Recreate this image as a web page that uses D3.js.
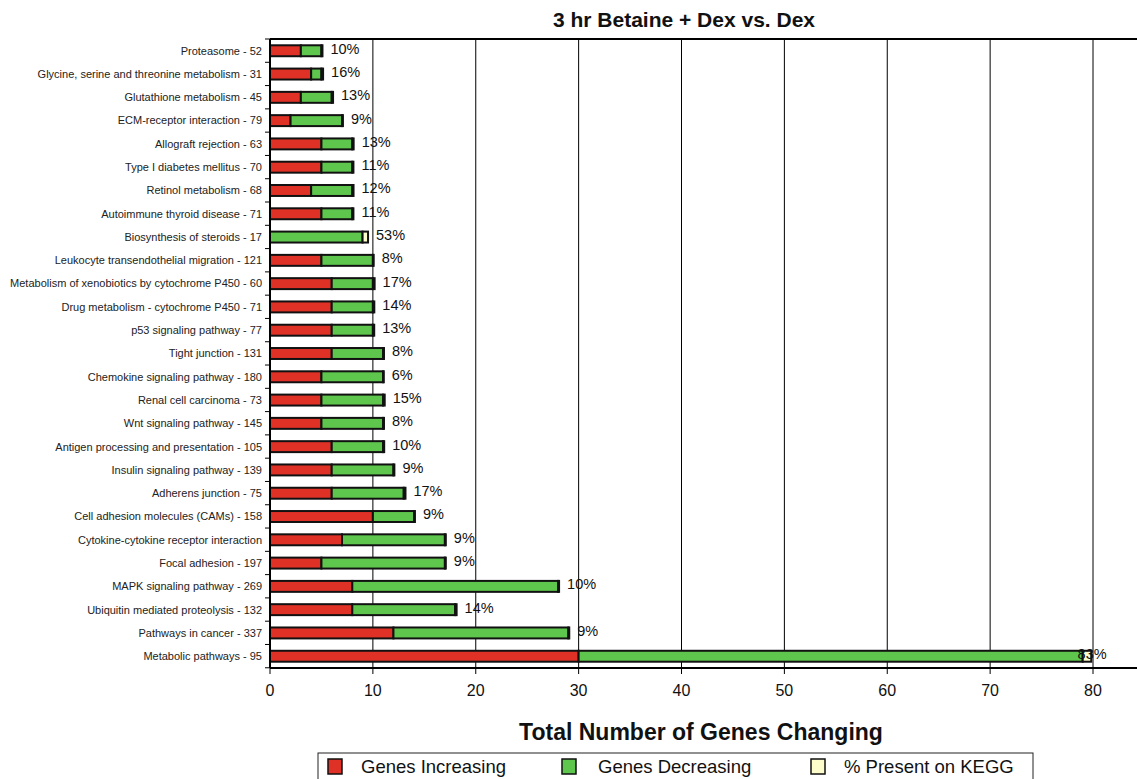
<!DOCTYPE html>
<html>
<head>
<meta charset="utf-8">
<script src="https://cdn.jsdelivr.net/npm/d3@7"></script>
<style>
  body { margin: 0; background: #fff; }
  text { font-family: "Liberation Sans", Arial, sans-serif; }
</style>
</head>
<body>
<div id="chart"></div>
<script>
// chart values, top row first
const pathways = [
  "Proteasome - 52",
  "Glycine, serine and threonine metabolism - 31",
  "Glutathione metabolism - 45",
  "ECM-receptor interaction - 79",
  "Allograft rejection - 63",
  "Type I diabetes mellitus - 70",
  "Retinol metabolism - 68",
  "Autoimmune thyroid disease - 71",
  "Biosynthesis of steroids - 17",
  "Leukocyte transendothelial migration - 121",
  "Metabolism of xenobiotics by cytochrome P450 - 60",
  "Drug metabolism - cytochrome P450 - 71",
  "p53 signaling pathway - 77",
  "Tight junction - 131",
  "Chemokine signaling pathway - 180",
  "Renal cell carcinoma - 73",
  "Wnt signaling pathway - 145",
  "Antigen processing and presentation - 105",
  "Insulin signaling pathway - 139",
  "Adherens junction - 75",
  "Cell adhesion molecules (CAMs) - 158",
  "Cytokine-cytokine receptor interaction",
  "Focal adhesion - 197",
  "MAPK signaling pathway - 269",
  "Ubiquitin mediated proteolysis - 132",
  "Pathways in cancer - 337",
  "Metabolic pathways - 95"
];
const genesIncreasing = [3, 4, 3, 2, 5, 5, 4, 5, 0, 5, 6, 6, 6, 6, 5, 5, 5, 6, 6, 6, 10, 7, 5, 8, 8, 12, 30];
const genesDecreasing = [2, 1, 3, 5, 3, 3, 4, 3, 9, 5, 4, 4, 4, 5, 6, 6, 6, 5, 6, 7, 4, 10, 12, 20, 10, 17, 49];
const pctOnKegg = [10, 16, 13, 9, 13, 11, 12, 11, 53, 8, 17, 14, 13, 8, 6, 15, 8, 10, 9, 17, 9, 9, 9, 10, 14, 9, 83];
const xTicks = [0, 10, 20, 30, 40, 50, 60, 70, 80];

const seriesNames = ["Genes Increasing", "Genes Decreasing", "% Present on KEGG"];
const colors = ["#e03127", "#5ec64c", "#fdfdcc"];

const width = 1137, height = 779;
const margin = { top: 39, left: 270, bottom: 111 };

const svg = d3.select('#chart')
  .append('svg')
  .attr('width', width)
  .attr('height', height);

// build stacked rows; the KEGG segment is drawn as pct/100 genes wide
const rows = pathways.map((p, i) => ({
  name: p,
  inc: genesIncreasing[i],
  dec: genesDecreasing[i],
  kegg: pctOnKegg[i] / 100,
  pct: pctOnKegg[i]
}));
const stack = d3.stack().keys(["inc", "dec", "kegg"])(rows);

const x = d3.scaleLinear()
  .domain([0, 80])
  .range([margin.left, margin.left + 823]);

const y = d3.scaleBand()
  .domain(pathways)
  .range([margin.top, height - margin.bottom])
  .paddingInner(0.53)
  .paddingOuter(0.27);

const plotBottom = height - margin.bottom;

// vertical gridlines
svg.append('g')
  .selectAll('line')
  .data(xTicks.filter(d => d > 0))
  .join('line')
  .attr('x1', d => x(d)).attr('x2', d => x(d))
  .attr('y1', margin.top).attr('y2', plotBottom)
  .attr('stroke', '#000')
  .attr('stroke-width', 1);

// top border
svg.append('line')
  .attr('x1', margin.left).attr('x2', width)
  .attr('y1', margin.top).attr('y2', margin.top)
  .attr('stroke', '#000').attr('stroke-width', 2);

// bars
svg.append('g')
  .selectAll('g')
  .data(stack)
  .join('g')
  .attr('fill', (d, i) => colors[i])
  .selectAll('rect')
  .data(d => d)
  .join('rect')
  .filter(d => d[1] > d[0])
  .attr('x', d => x(d[0]))
  .attr('y', d => y(d.data.name))
  .attr('width', d => x(d[1]) - x(d[0]))
  .attr('height', y.bandwidth())
  .attr('stroke', '#111')
  .attr('stroke-width', 2);

// percent labels
svg.append('g')
  .selectAll('text')
  .data(rows)
  .join('text')
  .attr('x', d => Math.min(x(d.inc + d.dec + d.kegg) + 8, x(78.5)))
  .attr('y', d => y(d.name) + y.bandwidth() / 2)
  .attr('dy', '0.2em')
  .attr('font-size', 14.5)
  .attr('fill', '#111')
  .text(d => d.pct + '%');

// y axis with ticks between the rows
const yAxis = svg.append('g');
yAxis.append('line')
  .attr('x1', margin.left).attr('x2', margin.left)
  .attr('y1', margin.top).attr('y2', plotBottom)
  .attr('stroke', '#000').attr('stroke-width', 2);
const step = y.step();
yAxis.selectAll('line.tick')
  .data(d3.range(pathways.length + 1))
  .join('line')
  .attr('class', 'tick')
  .attr('x1', margin.left - 5).attr('x2', margin.left)
  .attr('y1', i => margin.top + i * step).attr('y2', i => margin.top + i * step)
  .attr('stroke', '#000');
yAxis.selectAll('text')
  .data(pathways)
  .join('text')
  .attr('x', margin.left - 8)
  .attr('y', d => y(d) + y.bandwidth() / 2)
  .attr('dy', '0.35em')
  .attr('text-anchor', 'end')
  .attr('font-size', 11)
  .attr('fill', '#222')
  .text(d => d);

// x axis
const xAxis = svg.append('g');
xAxis.append('line')
  .attr('x1', margin.left).attr('x2', width)
  .attr('y1', plotBottom).attr('y2', plotBottom)
  .attr('stroke', '#000').attr('stroke-width', 2);
xAxis.selectAll('line.tick')
  .data(xTicks)
  .join('line')
  .attr('class', 'tick')
  .attr('x1', d => x(d)).attr('x2', d => x(d))
  .attr('y1', plotBottom).attr('y2', plotBottom + 6)
  .attr('stroke', '#000');
xAxis.selectAll('text')
  .data(xTicks)
  .join('text')
  .attr('x', d => x(d))
  .attr('y', plotBottom + 28)
  .attr('text-anchor', 'middle')
  .attr('font-size', 16)
  .attr('fill', '#111')
  .text(d => d);

// titles
svg.append('text')
  .attr('x', 684).attr('y', 27)
  .attr('text-anchor', 'middle')
  .attr('font-size', 21)
  .attr('font-weight', 'bold')
  .attr('fill', '#111')
  .text('3 hr Betaine + Dex vs. Dex');

svg.append('text')
  .attr('x', 701).attr('y', 740)
  .attr('text-anchor', 'middle')
  .attr('font-size', 23)
  .attr('font-weight', 'bold')
  .attr('fill', '#111')
  .text('Total Number of Genes Changing');

// legend
const legend = svg.append('g');
legend.append('rect')
  .attr('x', 318).attr('y', 753)
  .attr('width', 715).attr('height', 30)
  .attr('fill', '#fff')
  .attr('stroke', '#222').attr('stroke-width', 1);
const legendX = [328, 562, 811];
const legendItem = legend.selectAll('g.item')
  .data(seriesNames)
  .join('g')
  .attr('class', 'item')
  .attr('transform', (d, i) => `translate(${legendX[i]},759)`);
legendItem.append('rect')
  .attr('width', 14).attr('height', 15)
  .attr('fill', (d, i) => colors[i])
  .attr('stroke', '#111').attr('stroke-width', 1.5);
legendItem.append('text')
  .attr('x', (d, i) => i === 1 ? 36 : 33).attr('y', 14)
  .attr('font-size', 18.5)
  .attr('fill', '#111')
  .text(d => d);
</script>
</body>
</html>
